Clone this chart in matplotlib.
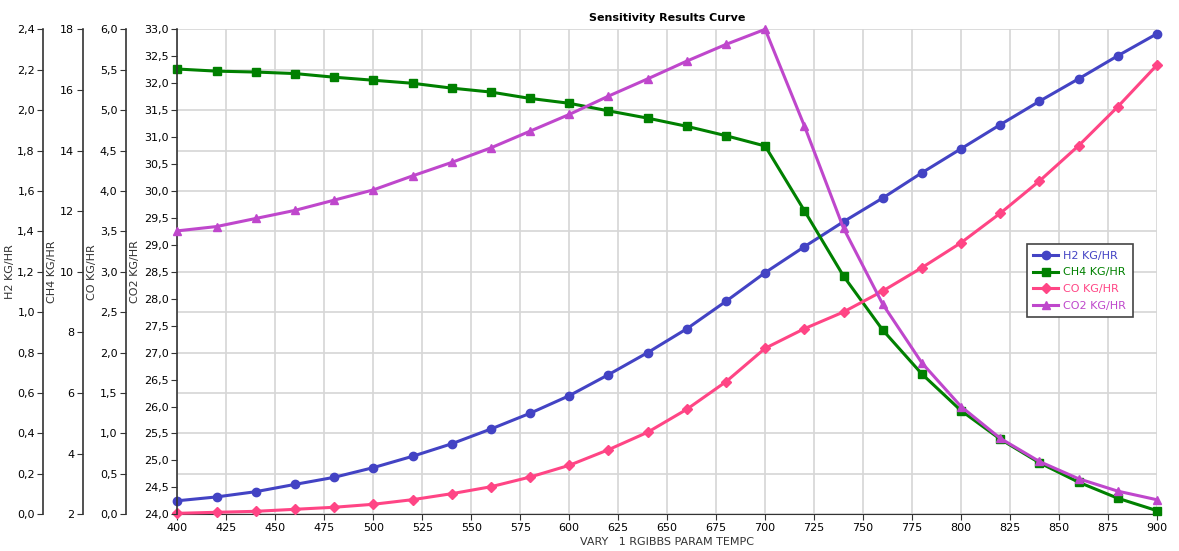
import numpy as np
import matplotlib
matplotlib.use("Agg")
import matplotlib.pyplot as plt
from matplotlib.ticker import FuncFormatter, MultipleLocator

TEMP = list(range(400, 901, 20))   # VARY 1 RGIBBS PARAM TEMPC

H2 = [0.067, 0.086, 0.112, 0.148, 0.183, 0.231, 0.287, 0.349, 0.422, 0.500,
      0.587, 0.691, 0.800, 0.918, 1.054, 1.196, 1.324, 1.448, 1.565, 1.690,
      1.809, 1.928, 2.044, 2.155, 2.269, 2.378]
CH4 = [16.69, 16.62, 16.59, 16.54, 16.42, 16.32, 16.22, 16.06, 15.93, 15.72,
       15.56, 15.31, 15.07, 14.80, 14.49, 14.15, 12.02, 9.86, 8.08, 6.63,
       5.42, 4.48, 3.70, 3.06, 2.53, 2.12]
CO = [0.012, 0.025, 0.037, 0.062, 0.087, 0.124, 0.181, 0.255, 0.341, 0.461,
      0.606, 0.799, 1.015, 1.299, 1.640, 2.054, 2.296, 2.503, 2.762, 3.051,
      3.360, 3.724, 4.123, 4.560, 5.042, 5.558]
CO2 = [29.26, 29.34, 29.49, 29.64, 29.83, 30.02, 30.28, 30.53, 30.80, 31.11,
       31.42, 31.76, 32.08, 32.41, 32.72, 33.00, 31.21, 29.31, 27.90, 26.81,
       26.00, 25.41, 24.98, 24.66, 24.43, 24.27]

# name, data, ylim, tick step, decimals, colour, marker, marker size, spine pos, label x
SERIES = [
    ("H2 KG/HR", H2, (0, 2.4), 0.2, 1, "#4343C4", "o", 6, -0.137, -0.166),
    ("CH4 KG/HR", CH4, (2, 18), 2, 0, "#008000", "s", 6, -0.0968, -0.123),
    ("CO KG/HR", CO, (0, 6), 0.5, 1, "#FF4585", "D", 5.5, -0.0529, -0.082),
    ("CO2 KG/HR", CO2, (24, 33), 0.5, 1, "#BF47CC", "^", 5.5, 0.0, -0.0383),
]


def comma_fmt(dec):
    return FuncFormatter(lambda v, p: f"{v:.{dec}f}".replace(".", ","))


fig = plt.figure(figsize=(11.79, 5.51), dpi=100)
host = fig.add_axes([0.1505, 0.0666, 0.8308, 0.8802])
host.set_xlim(400, 900)
host.xaxis.set_major_locator(MultipleLocator(25))
host.grid(True, color="#D6D6D6", lw=1.2)
host.set_axisbelow(True)
host.tick_params(axis="x", labelsize=8, length=4, color="#333333", pad=2)
host.set_xlabel("VARY   1 RGIBBS PARAM TEMPC", fontsize=8, color="#333333", labelpad=3)
host.set_title("Sensitivity Results Curve", fontsize=8, fontweight="bold", pad=6)
for s in ["top", "right"]:
    host.spines[s].set_visible(False)
host.spines["bottom"].set_color("#333333")

handles = []
for i, (name, data, lim, step, dec, col, mk, ms, pos, lx) in enumerate(SERIES):
    ax = host if i == 0 else host.twinx()
    if i > 0:
        ax.spines["right"].set_visible(False)
        ax.spines["top"].set_visible(False)
        ax.spines["bottom"].set_visible(False)
        ax.spines["left"].set_visible(True)
        ax.yaxis.set_ticks_position("left")
        ax.yaxis.set_label_position("left")
        ax.grid(False)
    ax.spines["left"].set_position(("axes", pos))
    ax.spines["left"].set_color("#333333")
    ax.spines["left"].set_linewidth(1.2)
    ax.set_ylim(*lim)
    ax.yaxis.set_major_locator(MultipleLocator(step))
    ax.yaxis.set_major_formatter(comma_fmt(dec))
    ax.tick_params(axis="y", labelsize=8, length=4, color="#333333", pad=2)
    ax.set_ylabel(name, fontsize=8, color="#333333")
    ax.yaxis.set_label_coords(lx, 0.5)
    ln, = ax.plot(TEMP, data, color=col, lw=2.2, marker=mk, ms=ms,
                  label=name, clip_on=False, zorder=3)
    handles.append(ln)

leg = ax.legend(handles=handles, loc="upper left", bbox_to_anchor=(0.867, 0.557),
                borderaxespad=0, fontsize=8, fancybox=False, framealpha=1,
                edgecolor="#444444", handlelength=2.2, handletextpad=0.5,
                borderpad=0.6, labelspacing=0.6)
leg.get_frame().set_linewidth(1.2)
for txt, h in zip(leg.get_texts(), handles):
    txt.set_color(h.get_color())

fig.savefig("out.png", dpi=100)
